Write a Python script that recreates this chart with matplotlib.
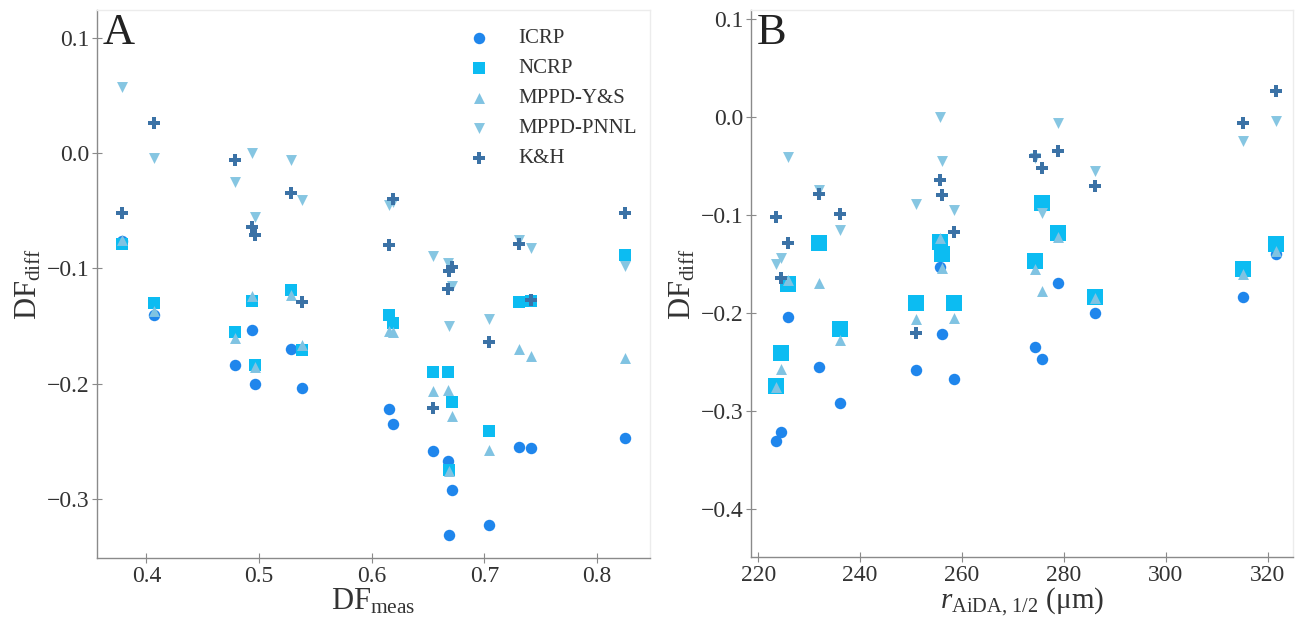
import numpy as np
import matplotlib
matplotlib.use('Agg')
import matplotlib.pyplot as plt

plt.rcParams['font.family'] = ['Liberation Serif', 'DejaVu Serif']
plt.rcParams['mathtext.fontset'] = 'custom'
plt.rcParams['mathtext.rm'] = 'Liberation Serif'
plt.rcParams['mathtext.it'] = 'Liberation Serif:italic'

# one entry per subject; r_aida is NaN where panel B has no point
df_meas = [0.378, 0.407, 0.479, 0.494, 0.496, 0.528, 0.538, 0.615, 0.619,
           0.654, 0.668, 0.669, 0.671, 0.704, 0.731, 0.741, 0.825]
r_aida = [np.nan, 321.6, 315.1, 255.6, 286.0, 278.8, 225.9, 256.0, 274.3,
          251.0, 258.5, 223.5, 236.0, 224.5, 231.9, np.nan, 275.6]

icrp = [-0.076, -0.140, -0.184, -0.153, -0.200, -0.170, -0.204, -0.222, -0.235,
        -0.258, -0.267, -0.331, -0.292, -0.322, -0.255, -0.256, -0.247]
ncrp = [-0.079, -0.130, -0.155, -0.128, -0.184, -0.119, -0.171, -0.140, -0.147,
        -0.190, -0.190, -0.275, -0.216, -0.241, -0.129, -0.128, -0.088]
mppd_ys = [-0.075, -0.137, -0.160, -0.124, -0.185, -0.123, -0.166, -0.154, -0.155,
           -0.206, -0.205, -0.276, -0.228, -0.257, -0.170, -0.176, -0.178]
mppd_pnnl = [0.057, -0.004, -0.025, 0.000, -0.055, -0.006, -0.041, -0.045, -0.042,
             -0.089, -0.095, -0.150, -0.115, -0.144, -0.075, -0.082, -0.098]
kh = [-0.052, 0.026, -0.006, -0.064, -0.071, -0.035, -0.129, -0.080, -0.040,
      -0.221, -0.118, -0.102, -0.099, -0.164, -0.079, -0.127, -0.052]

labels = ['ICRP', 'NCRP', 'MPPD-Y&S', 'MPPD-PNNL', 'K&H']
series = [icrp, ncrp, mppd_ys, mppd_pnnl, kh]
markers = ['o', 's', '^', 'v', 'P']
colors = ['#1f86ec', '#0cbcf2', '#80c3e2', '#86c6e2', '#3b72a6']
sizes_a = [68, 68, 62, 62, 68]
sizes_b = [68, 140, 62, 62, 68]

GRID = '#8a8a8a'
LIGHT = '#ececec'
TXT = '#333333'


def style_axes(ax):
    for side in ['left', 'bottom']:
        ax.spines[side].set_color(GRID)
        ax.spines[side].set_linewidth(1.0)
    for side in ['top', 'right']:
        ax.spines[side].set_color(LIGHT)
        ax.spines[side].set_linewidth(1.0)
    ax.tick_params(direction='inout', length=7, width=0.8, color=GRID,
                   labelsize=17, labelcolor=TXT, pad=2)


fig = plt.figure(figsize=(12.96, 6.23), dpi=100)
ax_a = fig.add_axes([0.0748, 0.1043, 0.4267, 0.8796])
ax_b = fig.add_axes([0.5795, 0.1060, 0.4185, 0.8780])

# Panel A
for vals, lab, m, c, s in zip(series, labels, markers, colors, sizes_a):
    ax_a.scatter(df_meas, vals, marker=m, color=c, s=s, linewidths=0,
                 label=lab)
ax_a.set_xlim(0.356, 0.847)
ax_a.set_ylim(-0.351, 0.124)
ax_a.set_xticks([0.4, 0.5, 0.6, 0.7, 0.8])
ax_a.set_yticks([-0.3, -0.2, -0.1, 0.0, 0.1])
ax_a.set_yticklabels(['\u22120.3', '\u22120.2', '\u22120.1', '0.0', '0.1'])
style_axes(ax_a)
ax_a.set_xlabel(r'DF$_{\mathrm{meas}}$', fontsize=22, color=TXT, labelpad=0)
ax_a.set_ylabel(r'DF$_{\mathrm{diff}}$', fontsize=22, color=TXT, labelpad=2)
ax_a.text(0.01, 0.995, 'A', transform=ax_a.transAxes, fontsize=32,
          va='top', ha='left', color='#222222')
ax_a.legend(loc='upper left', bbox_to_anchor=(0.62, 1.0), frameon=False,
            fontsize=15, labelspacing=0.5, handletextpad=0.85,
            scatterpoints=1, labelcolor=TXT)

# Panel B
for vals, lab, m, c, s in zip(series, labels, markers, colors, sizes_b):
    ax_b.scatter(r_aida, vals, marker=m, color=c, s=s, linewidths=0)
ax_b.set_xlim(218.6, 325)
ax_b.set_ylim(-0.449, 0.109)
ax_b.set_xticks([220, 240, 260, 280, 300, 320])
ax_b.set_yticks([-0.4, -0.3, -0.2, -0.1, 0.0, 0.1])
ax_b.set_yticklabels(['\u22120.4', '\u22120.3', '\u22120.2', '\u22120.1', '0.0', '0.1'])
style_axes(ax_b)
ax_b.set_xlabel('$r_{\\mathrm{AiDA,\\,1/2}}$ (\u03bcm)', fontsize=21,
                color=TXT, labelpad=0)
ax_b.set_ylabel(r'DF$_{\mathrm{diff}}$', fontsize=22, color=TXT, labelpad=2)
ax_b.text(0.01, 0.995, 'B', transform=ax_b.transAxes, fontsize=32,
          va='top', ha='left', color='#222222')

fig.savefig('out.png', dpi=100, facecolor='white')
